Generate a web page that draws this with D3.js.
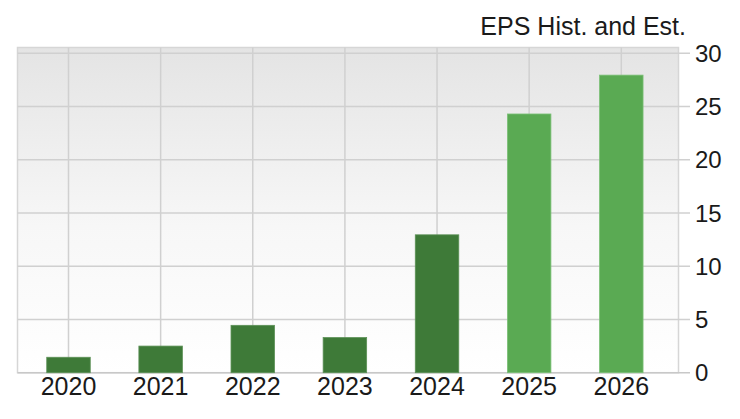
<!DOCTYPE html>
<html>
<head>
<meta charset="utf-8">
<script src="https://cdn.jsdelivr.net/npm/d3@7"></script>
<style>
  html, body { margin: 0; padding: 0; background: #ffffff; }
  svg { display: block; font-family: "Liberation Sans", Arial, Helvetica, sans-serif; }
</style>
</head>
<body>
<svg id="chart" width="740" height="419"></svg>
<script>
const years = ["2020", "2021", "2022", "2023", "2024", "2025", "2026"];
const eps = [1.45, 2.5, 4.45, 3.3, 12.95, 24.3, 27.95];
const isEstimate = [false, false, false, false, false, true, true];
const yTicks = [0, 5, 10, 15, 20, 25, 30];
const title = "EPS Hist. and Est.";

const svg = d3.select("#chart");
const plot = { left: 17.5, right: 678.5, top: 47.5, bottom: 372.7 };

const x = d3.scalePoint().domain(years).range([68.5, 621.3]);
const y = d3.scaleLinear().domain([0, 30]).range([372.7, 53.3]);
const barW = 43.5;

const defs = svg.append("defs");
const grad = defs.append("linearGradient").attr("id", "bg").attr("x1", 0).attr("y1", 0).attr("x2", 0).attr("y2", 1);
grad.append("stop").attr("offset", "0%").attr("stop-color", "#e4e4e4");
grad.append("stop").attr("offset", "55%").attr("stop-color", "#f7f7f7");
grad.append("stop").attr("offset", "100%").attr("stop-color", "#ffffff");

svg.append("rect")
  .attr("x", plot.left).attr("y", plot.top)
  .attr("width", plot.right - plot.left).attr("height", plot.bottom - plot.top)
  .attr("fill", "url(#bg)")
  .attr("stroke", "#d6d6d6").attr("stroke-width", 1.5);

// horizontal gridlines + right ticks
svg.append("g").selectAll("line").data(yTicks).join("line")
  .attr("x1", plot.left).attr("x2", 690)
  .attr("y1", d => y(d)).attr("y2", d => y(d))
  .attr("stroke", d => d === 0 ? "#c8c8c8" : "#d0d0d0").attr("stroke-width", 1.5);

// vertical gridlines
svg.append("g").selectAll("line").data(years).join("line")
  .attr("x1", d => x(d)).attr("x2", d => x(d))
  .attr("y1", plot.top).attr("y2", plot.bottom)
  .attr("stroke", "#d0d0d0").attr("stroke-width", 1.5);

// bars
svg.append("g").selectAll("rect").data(years).join("rect")
  .attr("x", d => x(d) - barW / 2)
  .attr("y", (d, i) => y(eps[i]))
  .attr("width", barW)
  .attr("height", (d, i) => y(0) - y(eps[i]))
  .attr("fill", (d, i) => isEstimate[i] ? "#5aaa53" : "#3e7a38")
  .attr("stroke", (d, i) => isEstimate[i] ? "#7cc077" : "#5c9156")
  .attr("stroke-width", 0.8);

// x labels
svg.append("g").selectAll("text").data(years).join("text")
  .attr("x", d => x(d)).attr("y", 395)
  .attr("text-anchor", "middle")
  .attr("font-size", 25).attr("fill", "#1a1a1a")
  .text(d => d);

// y labels
svg.append("g").selectAll("text").data(yTicks).join("text")
  .attr("x", 695).attr("y", d => y(d) + 8.5)
  .attr("text-anchor", "start")
  .attr("font-size", 24).attr("fill", "#1a1a1a")
  .text(d => d);

// title
svg.append("text")
  .attr("x", 686).attr("y", 35)
  .attr("text-anchor", "end")
  .attr("font-size", 25).attr("fill", "#1a1a1a")
  .text(title);
</script>
</body>
</html>
